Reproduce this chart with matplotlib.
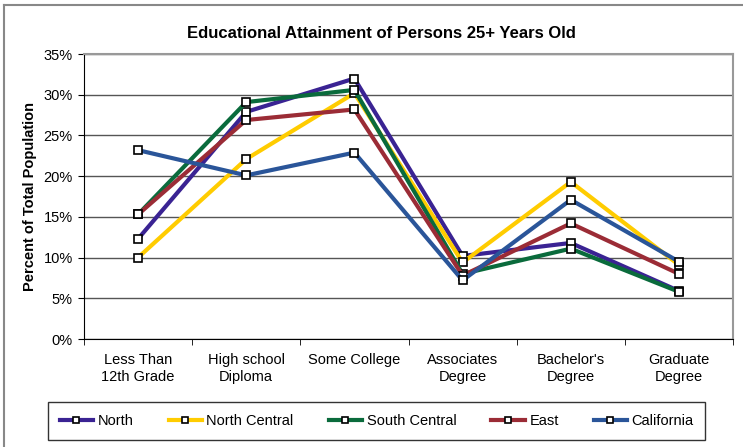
import matplotlib.pyplot as plt
from matplotlib.lines import Line2D
from matplotlib.ticker import FuncFormatter, MultipleLocator

plt.rcParams['font.family'] = ['Liberation Sans', 'DejaVu Sans']

categories = ['Less Than\n12th Grade', 'High school\nDiploma', 'Some College',
              'Associates\nDegree', "Bachelor's\nDegree", 'Graduate\nDegree']

north = [12.3, 27.9, 32.0, 10.2, 11.8, 5.9]
north_central = [10.0, 22.1, 30.2, 9.4, 19.3, 9.1]
south_central = [15.3, 29.1, 30.6, 8.0, 11.1, 5.8]
east = [15.3, 26.9, 28.2, 7.8, 14.2, 8.0]
california = [23.2, 20.1, 22.9, 7.2, 17.1, 9.5]

series = [
    ('North', north, '#3a2393'),
    ('North Central', north_central, '#ffcc00'),
    ('South Central', south_central, '#0a6b3c'),
    ('East', east, '#9b2c36'),
    ('California', california, '#2a5599'),
]

fig = plt.figure(figsize=(7.43, 4.47), dpi=100)
ax = fig.add_axes([0.113, 0.2416, 0.8736, 0.6374])

x = list(range(len(categories)))
for name, vals, color in series:
    ax.plot(x, vals, color=color, lw=3, marker='s', ms=6,
            mfc='white', mec='black', mew=1.2, label=name)

ax.set_xlim(-0.5, len(categories) - 0.5)
ax.set_ylim(0, 35)
ax.yaxis.set_major_locator(MultipleLocator(5))
ax.yaxis.set_major_formatter(FuncFormatter(lambda v, p: f'{v:.0f}%'))
ax.set_xticks(x)
ax.set_xticklabels(categories, fontsize=10.5, linespacing=1.3)
ax.set_xticks([i - 0.5 for i in range(len(categories) + 1)], minor=True)
ax.tick_params(axis='x', which='major', length=0, pad=10)
ax.tick_params(axis='x', which='minor', length=4, direction='out')
ax.tick_params(axis='y', length=4, direction='out', labelsize=10.5, pad=4)
ax.grid(axis='y', color='#555555', lw=1)
ax.set_axisbelow(True)

for s in ['top', 'right']:
    ax.spines[s].set_color('#999999')
    ax.spines[s].set_linewidth(1.5)
ax.spines['left'].set_color('black')
ax.spines['bottom'].set_color('black')

ax.set_ylabel('Percent of Total Population', fontsize=10.5, fontweight='bold', labelpad=5)
fig.text(0.513, 0.925, 'Educational Attainment of Persons 25+ Years Old',
         ha='center', va='center', fontsize=12, fontweight='bold')

leg = fig.legend(loc='center', bbox_to_anchor=(0.507, 0.058), ncol=5,
                 frameon=True, fancybox=False, edgecolor='black',
                 fontsize=10.5, handlelength=2.3, handletextpad=0.3,
                 columnspacing=2.4, borderpad=0.8, markerscale=0.8)
leg.get_frame().set_linewidth(1)

# outer chart border (top and left only visible)
fig.add_artist(Line2D([0.006, 1.0], [0.989, 0.989], color='#888888', lw=1.5))
fig.add_artist(Line2D([0.006, 0.006], [0.0, 0.989], color='#888888', lw=1.5))

fig.savefig('out.png', dpi=100)
